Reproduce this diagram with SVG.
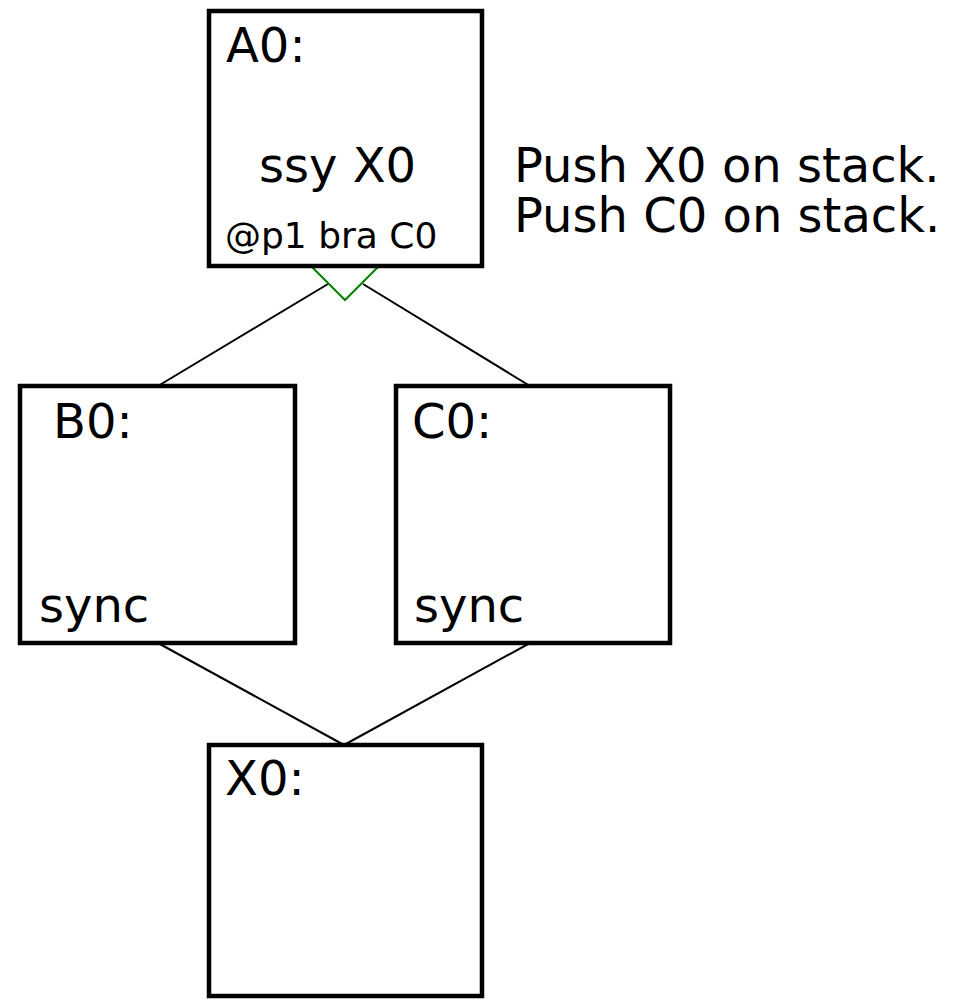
<svg xmlns="http://www.w3.org/2000/svg" width="953" height="1000" viewBox="0 0 953 1000">
  <style>
    .box { fill: #ffffff; stroke: #000000; stroke-width: 4.5; }
    .edge { fill: none; stroke: #000000; stroke-width: 2; }
    .branch { fill: none; stroke: #008000; stroke-width: 2; }
    .lbl { font-family: "DejaVu Sans", Verdana, sans-serif; font-size: 48px; fill: #000000; }
    .small { font-size: 36px; }
  </style>
  <rect width="953" height="1000" fill="#ffffff"/>

  <!-- connectors between basic blocks -->
  <g id="connectors">
    <line class="edge" x1="158" y1="386" x2="328" y2="284"/>
    <line class="edge" x1="363" y1="284" x2="530" y2="386"/>
    <polyline class="branch" points="312,267 345,300 378,267"/>
    <line class="edge" x1="158" y1="643" x2="344" y2="745"/>
    <line class="edge" x1="530" y1="643" x2="344" y2="745"/>
  </g>

  <g id="A0">
    <rect class="box" x="209" y="11" width="273" height="255"/>
    <text class="lbl" x="226" y="62">A0:</text>
    <text class="lbl" x="259" y="182">ssy X0</text>
    <text class="lbl small" x="225" y="248">@p1 bra C0</text>
  </g>

  <g id="B0">
    <rect class="box" x="20" y="386" width="275" height="257"/>
    <text class="lbl" x="53" y="438">B0:</text>
    <text class="lbl" x="39" y="622">sync</text>
  </g>

  <g id="C0">
    <rect class="box" x="396" y="386" width="274" height="257"/>
    <text class="lbl" x="412" y="438">C0:</text>
    <text class="lbl" x="414" y="622">sync</text>
  </g>

  <g id="X0">
    <rect class="box" x="209" y="745" width="273" height="251"/>
    <text class="lbl" x="225" y="795">X0:</text>
  </g>

  <g id="notes">
    <text class="lbl" x="514" y="182">Push X0 on stack.</text>
    <text class="lbl" x="514" y="232">Push C0 on stack.</text>
  </g>
</svg>
